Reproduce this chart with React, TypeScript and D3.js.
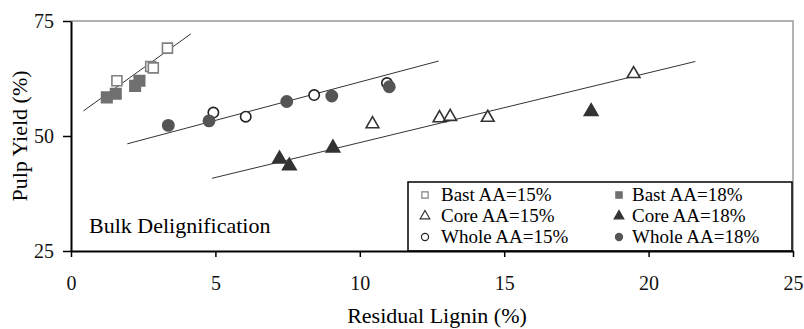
import React, { useRef, useEffect } from 'react';
import { select, scaleLinear, axisBottom, axisLeft, symbol, symbolSquare, symbolTriangle, symbolCircle } from 'd3';

const xTicks = [0, 5, 10, 15, 20, 25];
const yTicks = [25, 50, 75];

const bast15 = [[1.59, 62.0], [2.76, 65.1], [2.85, 64.8], [3.34, 69.1]];
const bast18 = [[1.24, 58.4], [1.55, 59.2], [2.22, 60.9], [2.37, 62.0]];
const core15 = [[10.44, 52.6], [12.76, 53.9], [13.13, 54.2], [14.43, 54.0], [19.48, 63.5]];
const core18 = [[7.22, 45.0], [7.56, 43.5], [9.07, 47.4], [18.01, 55.3]];
const whole15 = [[4.93, 55.1], [6.05, 54.2], [8.42, 58.9], [10.94, 61.5]];
const whole18 = [[3.37, 52.3], [4.78, 53.3], [7.47, 57.5], [9.03, 58.7], [11.02, 60.7]];

const bastLine = [[0.43, 55.45], [4.15, 72.2]];
const wholeLine = [[1.95, 48.3], [12.73, 66.3]];
const coreLine = [[4.88, 40.8], [21.62, 66.2]];

const legendLabels = ['Bast AA=15%', 'Bast AA=18%', 'Core AA=15%', 'Core AA=18%', 'Whole AA=15%', 'Whole AA=18%'];

function App() {
	const svgRef = useRef(null);
	const width = 804;
	const height = 329;
	const m = { left: 71, top: 21, right: 793, bottom: 251 };

	useEffect(() => {
		const svg = select(svgRef.current);
		svg.selectAll('*').remove();
		const font = '"Liberation Serif", "Times New Roman", serif';

		const x = scaleLinear().domain([0, 25]).range([m.left, m.right]);
		const y = scaleLinear().domain([25, 75]).range([m.bottom, m.top]);

		// gray frame top/right
		svg.append('path')
			.attr('d', `M${m.left},${m.top}H${m.right}V${m.bottom}`)
			.attr('fill', 'none')
			.attr('stroke', '#999')
			.attr('stroke-width', 1.5);

		const series = [
			{ data: bast15, type: symbolSquare, size: 100, fill: 'white', stroke: '#808080' },
			{ data: bast18, type: symbolSquare, size: 110, fill: '#707070', stroke: '#707070' },
			{ data: core15, type: symbolTriangle, size: 70, fill: 'white', stroke: '#333' },
			{ data: core18, type: symbolTriangle, size: 80, fill: '#333', stroke: '#333' },
			{ data: whole15, type: symbolCircle, size: 85, fill: 'white', stroke: '#222' },
			{ data: whole18, type: symbolCircle, size: 100, fill: '#555', stroke: '#555' },
		];

		// fit lines
		[bastLine, wholeLine, coreLine].forEach((l) => {
			svg.append('line')
				.attr('x1', x(l[0][0])).attr('y1', y(l[0][1]))
				.attr('x2', x(l[1][0])).attr('y2', y(l[1][1]))
				.attr('stroke', '#333')
				.attr('stroke-width', 1);
		});

		series.forEach((s) => {
			svg.append('g')
				.selectAll('path')
				.data(s.data)
				.join('path')
				.attr('transform', (d) => `translate(${x(d[0])},${y(d[1])})`)
				.attr('d', symbol().type(s.type).size(s.size))
				.attr('fill', s.fill)
				.attr('stroke', s.stroke)
				.attr('stroke-width', 1.6);
		});

		// legend
		const lg = svg.append('g');
		lg.append('rect')
			.attr('x', 408).attr('y', 182)
			.attr('width', 384).attr('height', 69)
			.attr('fill', 'white')
			.attr('stroke', 'black')
			.attr('stroke-width', 1.5);
		legendLabels.forEach((label, i) => {
			const col = i % 2;
			const row = Math.floor(i / 2);
			const sx = col === 0 ? 425 : 619;
			const tx = col === 0 ? 441 : 632;
			const by = 201 + row * 21;
			const s = series[i];
			lg.append('path')
				.attr('transform', `translate(${sx},${by - 6})`)
				.attr('d', symbol().type(s.type).size(40))
				.attr('fill', s.fill)
				.attr('stroke', s.stroke)
				.attr('stroke-width', 1.2);
			lg.append('text')
				.attr('x', tx)
				.attr('y', by)
				.attr('font-family', font)
				.attr('font-size', 19)
				.text(label);
		});

		// axes
		const xAxis = axisBottom(x).tickValues(xTicks).tickSize(6).tickSizeOuter(0);
		const gx = svg.append('g').attr('transform', `translate(0,${m.bottom})`).call(xAxis);
		gx.select('.domain').attr('stroke-width', 2);
		gx.selectAll('.tick line').attr('stroke-width', 1.5);
		gx.selectAll('.tick text').attr('font-family', font).attr('font-size', 20).attr('y', 39).attr('dy', 0).attr('fill', '#111');

		const yAxis = axisLeft(y).tickValues(yTicks).tickSize(8).tickSizeOuter(0);
		const gy = svg.append('g').attr('transform', `translate(${m.left},0)`).call(yAxis);
		gy.select('.domain').attr('stroke-width', 2);
		gy.selectAll('.tick line').attr('stroke-width', 1.5);
		gy.selectAll('.tick text').attr('font-family', font).attr('font-size', 20).attr('x', -17).attr('fill', '#111');

		svg.append('text')
			.attr('x', 89).attr('y', 233)
			.attr('font-family', font).attr('font-size', 22)
			.text('Bulk Delignification');

		svg.append('text')
			.attr('x', 437).attr('y', 323)
			.attr('text-anchor', 'middle')
			.attr('font-family', font).attr('font-size', 22)
			.text('Residual Lignin (%)');

		svg.append('text')
			.attr('transform', `translate(27,136) rotate(-90)`)
			.attr('text-anchor', 'middle')
			.attr('font-family', font).attr('font-size', 22)
			.text('Pulp Yield (%)');
	}, []);

	return (
		<svg ref={svgRef} width={width} height={height} style={{ display: 'block', position: 'absolute', left: 0, top: 0, background: 'white' }} />
	);
}

export default App;
